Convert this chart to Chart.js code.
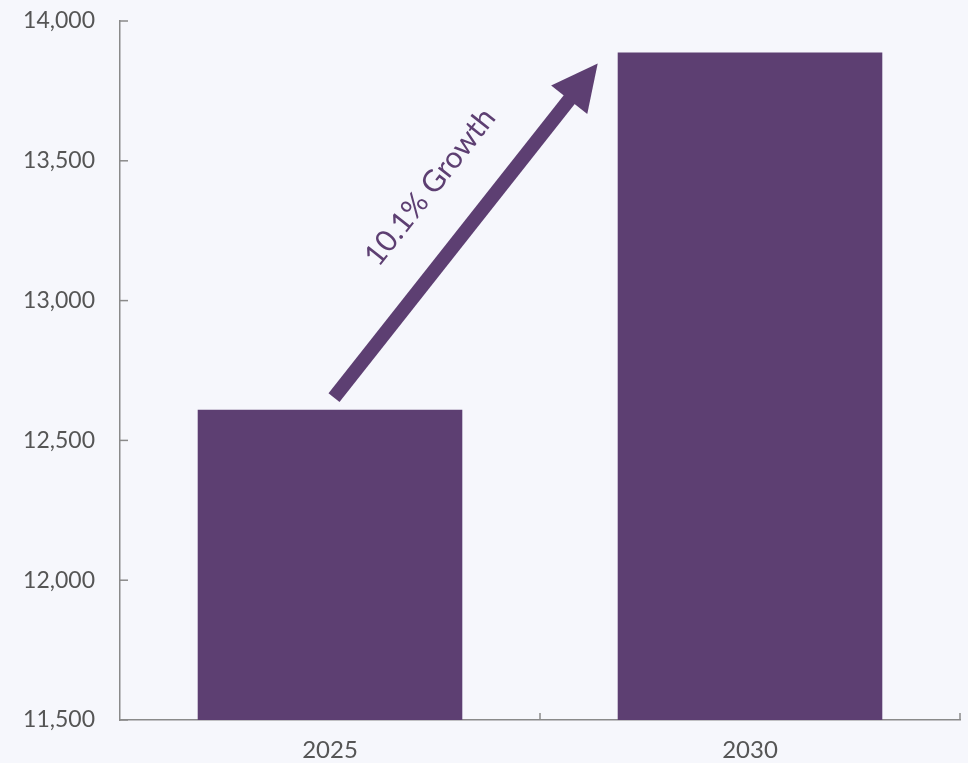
<!DOCTYPE html>
<html lang="en">
<head>
  <meta charset="UTF-8">
  <title>Growth Bar Chart</title>
  <script src="https://cdn.jsdelivr.net/npm/chart.js"></script>
  <style>
    html, body { margin: 0; padding: 0; background: #f6f7fc; }
    #wrap { width: 968px; height: 763px; }
  </style>
</head>
<body>
  <div id="wrap"><canvas id="growthChart"></canvas></div>

  <script>
    // chart data
    const years = ['2025', '2030'];
    const values = [12610, 13887];
    const growthLabel = '10.1% Growth';

    const purple = '#5d3f72';
    const axisGrey = '#8a8a8a';
    const textGrey = '#555555';

    // ticks that point into the plot area, plus category ticks on the x axis
    const innerTicks = {
      id: 'innerTicks',
      afterDraw(chart) {
        const { ctx, chartArea, scales } = chart;
        ctx.save();
        ctx.strokeStyle = axisGrey;
        ctx.lineWidth = 1.5;
        scales.y.ticks.forEach((t, i) => {
          const y = scales.y.getPixelForTick(i);
          ctx.beginPath();
          ctx.moveTo(chartArea.left, y);
          ctx.lineTo(chartArea.left + 8, y);
          ctx.stroke();
        });
        const step = (chartArea.right - chartArea.left) / years.length;
        for (let i = 1; i <= years.length; i++) {
          const x = chartArea.left + step * i;
          ctx.beginPath();
          ctx.moveTo(x, chartArea.bottom);
          ctx.lineTo(x, chartArea.bottom - 7);
          ctx.stroke();
        }
        ctx.restore();
      }
    };

    // growth arrow between the two bars
    const growthArrow = {
      id: 'growthArrow',
      afterDatasetsDraw(chart) {
        const { ctx, scales } = chart;
        const bar = chart.getDatasetMeta(0).data[1];
        const x0 = scales.x.getPixelForValue(0) + 4;
        const y0 = scales.y.getPixelForValue(values[0]) - 12;
        const x1 = scales.x.getPixelForValue(1) - bar.width / 2 - 20;
        const y1 = scales.y.getPixelForValue(values[1]) + 11;
        const len = Math.hypot(x1 - x0, y1 - y0);
        const ang = Math.atan2(y1 - y0, x1 - x0);
        const head = 46;

        ctx.save();
        ctx.translate(x0, y0);
        ctx.rotate(ang);
        ctx.fillStyle = purple;
        ctx.fillRect(0, -7, len - head + 2, 14);
        ctx.beginPath();
        ctx.moveTo(len, 0);
        ctx.lineTo(len - head, -23);
        ctx.lineTo(len - head, 23);
        ctx.closePath();
        ctx.fill();

        ctx.font = '30px Lato';
        ctx.textAlign = 'center';
        ctx.textBaseline = 'middle';
        ctx.fillText(growthLabel, len * 0.5 + 12, -55);
        ctx.restore();
      }
    };

    const ctx = document.getElementById('growthChart').getContext('2d');
    new Chart(ctx, {
      type: 'bar',
      data: {
        labels: years,
        datasets: [{
          data: values,
          backgroundColor: purple,
          borderWidth: 0,
          barPercentage: 0.7,
          categoryPercentage: 0.9
        }]
      },
      options: {
        responsive: true,
        maintainAspectRatio: false,
        animation: false,
        layout: { padding: { top: 21, right: 8, left: 0, bottom: 0 } },
        plugins: {
          legend: { display: false },
          tooltip: { enabled: false }
        },
        scales: {
          x: {
            grid: { display: false, drawTicks: false },
            border: { color: axisGrey, width: 1.5 },
            ticks: { color: textGrey, font: { family: 'Lato', size: 24 }, padding: 16 },
            afterFit: s => { s.height = 43; }
          },
          y: {
            min: 11500,
            max: 14000,
            grid: { display: false, drawTicks: false },
            border: { color: axisGrey, width: 1.5 },
            ticks: {
              stepSize: 500,
              color: textGrey,
              font: { family: 'Lato', size: 23 },
              padding: 25,
              callback: v => v.toLocaleString('en-US')
            },
            afterFit: s => { s.width = 120; s.paddingTop = 0; s.paddingBottom = 0; }
          }
        }
      },
      plugins: [innerTicks, growthArrow]
    });
  </script>
</body>
</html>
